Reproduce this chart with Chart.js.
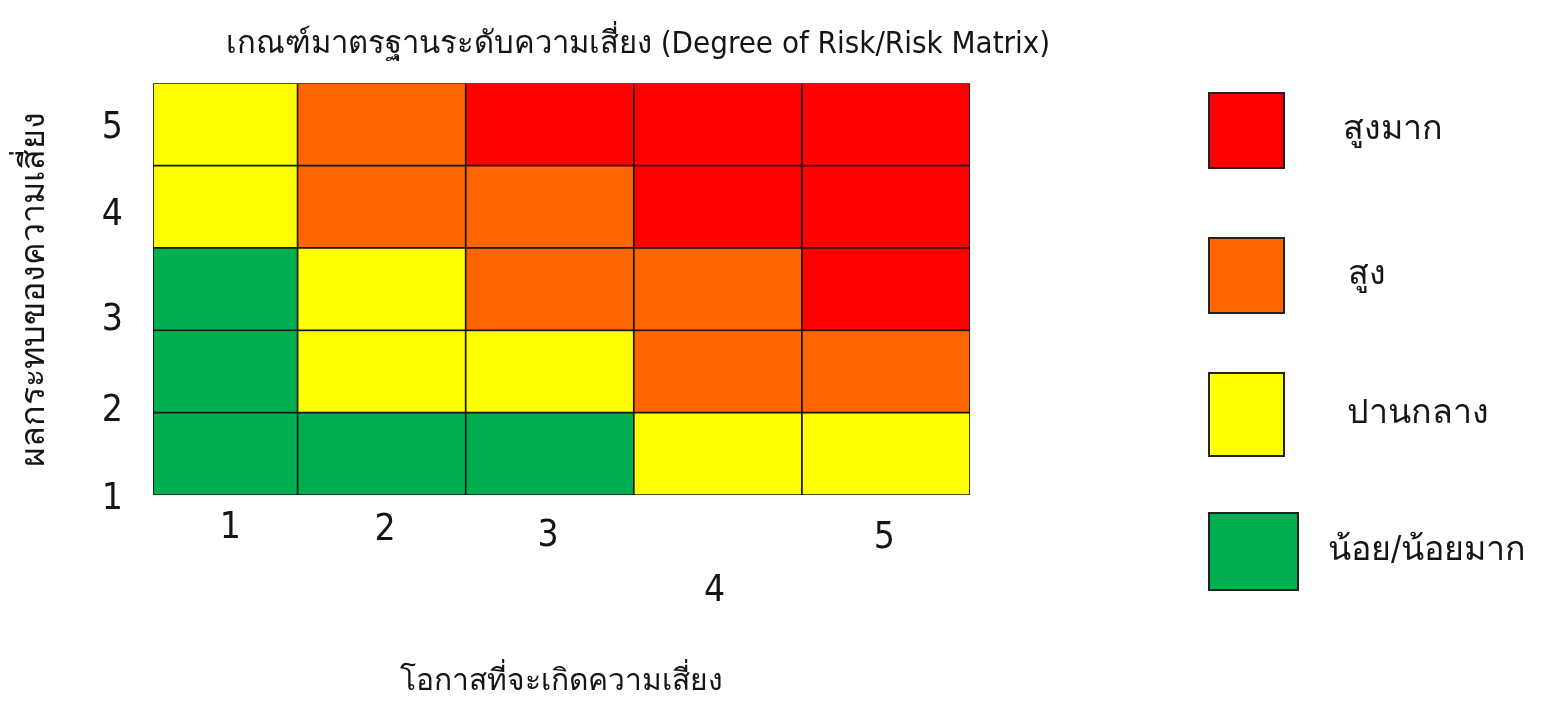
<!DOCTYPE html>
<html>
<head>
<meta charset="utf-8">
<script src="https://cdn.jsdelivr.net/npm/chart.js@4.4.1/dist/chart.umd.min.js"></script>
<style>
  html, body { margin: 0; padding: 0; background: #ffffff; }
  #wrap { width: 1541px; height: 705px; }
</style>
</head>
<body>
<div id="wrap"><canvas id="chart" width="1541" height="705"></canvas></div>
<script>
// ---- data ----
const chartTitle = 'เกณฑ์มาตรฐานระดับความเสี่ยง (Degree of Risk/Risk Matrix)';
const xTitle = 'โอกาสที่จะเกิดความเสี่ยง';
const yTitle = 'ผลกระทบของความเสี่ยง';
const probability = ['1', '2', '3', '4', '5'];      // columns (x)
const impact = ['1', '2', '3', '4', '5'];           // rows (y)
const riskLevels = ['น้อย/น้อยมาก', 'ปานกลาง', 'สูง', 'สูงมาก'];
const levelColors = ['#00B050', '#FFFF00', '#FF6600', '#FF0000'];
// risk level index for each probability column, one list per impact row
const impact1 = [0, 0, 0, 1, 1];
const impact2 = [0, 1, 1, 2, 2];
const impact3 = [0, 1, 2, 2, 3];
const impact4 = [1, 2, 2, 3, 3];
const impact5 = [1, 2, 3, 3, 3];
const legendOrder = [3, 2, 1, 0];

// ---- chart ----
const FONT = "'Liberation Sans Narrow', 'DejaVu Sans Condensed', 'Noto Sans', sans-serif";
const TEXT = '#151515';
const X_MIN = 0.64, X_MAX = 5.5, Y_MIN = 0.5, Y_MAX = 5.5;
const xTickAt = [1.1, 2.02, 2.99, 3.98, 4.99];
const xTickLine = [43, 46, 58, 169, 63];
const yTickAt = [0.45, 1.52, 2.62, 3.89, 4.95];

const rows = [impact1, impact2, impact3, impact4, impact5];
const datasets = probability.map((p, c) => ({
  label: 'โอกาส ' + p,
  data: rows.map((row, r) => ({
    x: [Math.max(c + 0.5, X_MIN), c + 1.5],
    y: r + 1,
    level: row[c]
  })),
  backgroundColor: ctx => levelColors[ctx.raw.level],
  borderColor: '#161616',
  borderWidth: 1.2,
  borderSkipped: false,
  grouped: false,
  barPercentage: 1,
  categoryPercentage: 1
}));

// legend item boxes (left offset from plot edge, top, width, height) and text offsets
const LEG_BOX = [[239, 93, 75, 75], [239, 238, 75, 75], [239, 373, 75, 83], [239, 513, 89, 77]];
const LEG_TEXT_DX = [134, 139, 138, 119];

const riskLegend = {
  id: 'riskLegend',
  afterDraw(chart) {
    const ctx = chart.ctx;
    const a = chart.chartArea;
    ctx.save();
    legendOrder.forEach((lvl, i) => {
      const [dx, top, w, h] = LEG_BOX[i];
      const x0 = a.right + dx;
      ctx.fillStyle = levelColors[lvl];
      ctx.fillRect(x0, top, w, h);
      ctx.lineWidth = 2;
      ctx.strokeStyle = '#222222';
      ctx.strokeRect(x0, top, w, h);
      ctx.fillStyle = TEXT;
      ctx.font = "34px " + FONT;
      ctx.textBaseline = 'middle';
      ctx.textAlign = 'left';
      ctx.fillText(riskLevels[lvl], x0 + LEG_TEXT_DX[i], top + h / 2);
    });
    ctx.restore();
  }
};

new Chart(document.getElementById('chart'), {
  type: 'bar',
  data: { datasets },
  plugins: [riskLegend],
  options: {
    responsive: false,
    animation: false,
    devicePixelRatio: 1,
    indexAxis: 'y',
    layout: { padding: { left: 0, right: 265, top: 0, bottom: 0 } },
    plugins: {
      legend: { display: false },
      tooltip: { enabled: false },
      title: {
        display: true,
        text: chartTitle,
        color: TEXT,
        font: { family: FONT, size: 31, weight: 'normal', lineHeight: 1.2 },
        padding: { top: 26, bottom: 20 }
      }
    },
    scales: {
      x: {
        type: 'linear',
        position: 'bottom',
        min: X_MIN, max: X_MAX,
        offset: false,
        grid: { display: false, drawTicks: false },
        border: { display: false },
        afterBuildTicks: s => { s.ticks = xTickAt.map(v => ({ value: v })); },
        afterFit: s => { s.height = 210; },
        ticks: {
          padding: 12,
          color: TEXT,
          maxRotation: 0,
          autoSkip: false,
          font: ctx => ({ family: FONT, size: 37, lineHeight: xTickLine[ctx.index] + 'px' }),
          callback: (v, i) => probability[i]
        },
        title: {
          display: true,
          text: xTitle,
          color: TEXT,
          font: { family: FONT, size: 30, lineHeight: 1.2 },
          padding: { top: 0, bottom: 5 }
        }
      },
      y: {
        type: 'linear',
        position: 'left',
        min: Y_MIN, max: Y_MAX,
        offset: false,
        grid: { display: false, drawTicks: false },
        border: { display: false },
        afterBuildTicks: s => { s.ticks = yTickAt.map(v => ({ value: v })); },
        afterFit: s => { s.width = 153; },
        ticks: {
          padding: 30,
          color: TEXT,
          autoSkip: false,
          font: { family: FONT, size: 37 },
          callback: (v, i) => impact[i]
        },
        title: {
          display: true,
          text: yTitle,
          color: TEXT,
          font: { family: FONT, size: 34, lineHeight: 1.2 },
          padding: { top: 15, bottom: 0 }
        }
      },
      ySpacer: {
        type: 'linear',
        position: 'right',
        grid: { display: false, drawTicks: false },
        border: { display: false },
        ticks: { display: false },
        afterFit: s => { s.width = 306; }
      }
    }
  }
});
</script>
</body>
</html>
